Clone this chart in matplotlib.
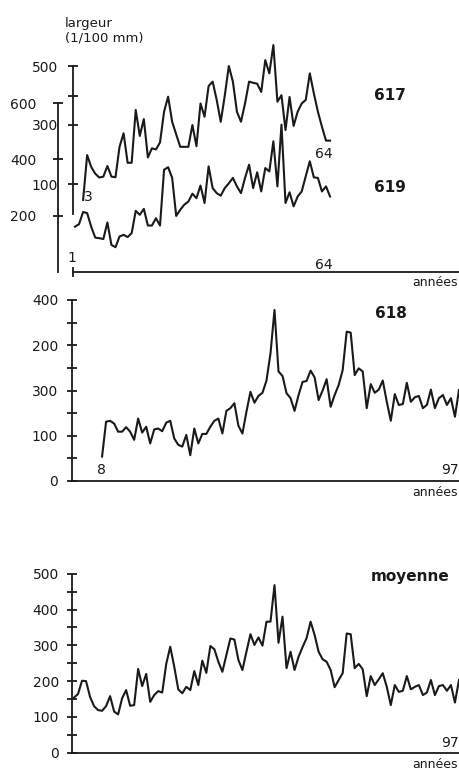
import matplotlib
matplotlib.use("Agg")
import matplotlib.pyplot as plt

# ---------------- data (ring widths, 1/100 mm) ----------------
years_617 = list(range(3, 65))
width_617 = [46, 198, 158, 135, 122, 125, 161, 125, 123, 226,
             272, 172, 172, 351, 263, 320, 190, 221, 217, 241,
             345, 396, 311, 268, 226, 226, 226, 300, 228, 373,
             328, 432, 447, 385, 311, 400, 500, 447, 345, 311,
             373, 447, 443, 440, 412, 520, 475, 571, 379, 401,
             283, 395, 297, 345, 373, 385, 475, 407, 345, 294,
             247, 247]

years_619 = list(range(1, 65))
width_619 = [161, 170, 213, 209, 161, 122, 120, 117, 176, 96,
             88, 126, 132, 124, 138, 217, 203, 224, 165, 165,
             191, 165, 363, 372, 334, 199, 221, 239, 250, 278,
             262, 307, 245, 375, 298, 280, 271, 298, 315, 334,
             304, 280, 334, 381, 298, 354, 286, 369, 357, 464,
             304, 523, 245, 283, 233, 268, 286, 340, 393, 336,
             334, 286, 304, 268]

years_618 = list(range(8, 98))
width_618 = [54, 131, 133, 127, 109, 109, 119, 109, 91, 138,
             107, 120, 83, 114, 116, 110, 129, 133, 94, 80,
             76, 102, 57, 116, 83, 104, 104, 120, 133, 138,
             105, 155, 161, 172, 122, 105, 153, 197, 173, 188,
             195, 222, 282, 378, 242, 232, 194, 183, 155, 190,
             219, 221, 244, 229, 179, 200, 225, 164, 190, 212,
             245, 330, 328, 234, 249, 242, 161, 214, 195, 202,
             222, 175, 133, 192, 168, 170, 217, 175, 185, 188,
             161, 168, 202, 161, 183, 190, 168, 183, 142, 201]

years_moy = list(range(1, 98))
width_moy = [154, 164, 201, 200, 156, 130, 119, 117, 130, 158,
             115, 107, 152, 175, 131, 133, 234, 186, 220, 142,
             161, 172, 168, 248, 296, 240, 177, 166, 184, 175,
             228, 189, 257, 223, 298, 289, 254, 226, 273, 319,
             316, 259, 231, 282, 331, 301, 322, 299, 366, 366,
             468, 307, 380, 236, 282, 231, 268, 295, 320, 366,
             329, 282, 261, 254, 231, 183, 203, 222, 333, 331,
             236, 248, 233, 158, 214, 189, 205, 222, 184, 133,
             189, 170, 173, 214, 177, 184, 189, 161, 168, 203,
             161, 186, 189, 173, 189, 140, 203]

ticks_619 = [200, 400, 600]
labels_619 = ["200", "400", "600"]
ticks_617 = [100, 300, 400, 500]
labels_617 = ["100", "300", "", "500"]
ticks_618 = [0, 50, 100, 150, 200, 250, 300, 350, 400]
labels_618 = ["0", "", "100", "", "300", "", "200", "", "400"]
ticks_moy = [0, 50, 100, 150, 200, 250, 300, 350, 400, 450, 500]
labels_moy = ["0", "", "100", "", "200", "", "300", "", "400", "", "500"]

# ---------------- figure ----------------
W, H = 460, 771
fig = plt.figure(figsize=(W / 100, H / 100), dpi=100)
plt.rcParams['font.family'] = ['DejaVu Sans']
FS = 10
INK = '#1a1a1a'
LW_AX = 1.3
LW_LINE = 1.5


def ax_px(left, right, bottom, top):
    return fig.add_axes([left / W, 1 - bottom / H, (right - left) / W, (bottom - top) / H])


def style(ax, pad):
    for s in ('top', 'right'):
        ax.spines[s].set_visible(False)
    for s in ('left', 'bottom'):
        ax.spines[s].set_linewidth(LW_AX)
        ax.spines[s].set_color(INK)
    ax.tick_params(axis='y', direction='inout', length=7, width=LW_AX,
                   color=INK, labelsize=FS, pad=pad, labelcolor=INK)
    ax.tick_params(axis='x', direction='inout', length=7, width=LW_AX,
                   color=INK, labelbottom=False)
    ax.patch.set_visible(False)


def ftext(x, y, s, **kw):
    kw.setdefault('fontsize', FS)
    kw.setdefault('va', 'center')
    kw.setdefault('color', INK)
    fig.text(x / W, 1 - y / H, s, **kw)


# --- top panel: 619 (outer axis) and 617 (inner axis) ---
xl_top = (0.506, 96.1)
ax619 = ax_px(73, 460, 272, 103)
style(ax619, pad=12)
ax619.set_xlim(*xl_top)
ax619.set_ylim(0, 600)
ax619.spines['left'].set_position(('outward', 11))
ax619.spines['left'].set_bounds(0, 600)
ax619.set_yticks(ticks_619, labels_619)
ax619.set_xticks([xl_top[0]])
ax619.plot(years_619, width_619, color=INK, lw=LW_LINE, clip_on=False)

ax617 = ax_px(73, 460, 213.5, 66)
style(ax617, pad=7.5)
ax617.spines['bottom'].set_visible(False)
ax617.set_xlim(*xl_top)
ax617.set_ylim(0, 500)
ax617.spines['left'].set_bounds(0, 500)
ax617.set_yticks(ticks_617, labels_617)
ax617.set_xticks([])
ax617.plot(years_617, width_617, color=INK, lw=LW_LINE, clip_on=False)

# --- panel 618 ---
xl = (0.5, 97.26)
ax618 = ax_px(72, 460, 481, 300)
style(ax618, pad=6.5)
ax618.set_xlim(*xl)
ax618.set_ylim(0, 400)
ax618.set_yticks(ticks_618, labels_618)
ax618.set_xticks([])
ax618.plot(years_618, width_618, color=INK, lw=LW_LINE, clip_on=False)

# --- panel moyenne ---
axm = ax_px(72, 460, 752.7, 573.7)
style(axm, pad=6)
axm.set_xlim(*xl)
axm.set_ylim(0, 500)
axm.set_yticks(ticks_moy, labels_moy)
axm.set_xticks([])
axm.plot(years_moy, width_moy, color=INK, lw=LW_LINE, clip_on=False)

# --- texts ---
ftext(65, 23, "largeur", fontsize=9.5)
ftext(65, 38, "(1/100 mm)", fontsize=9.5)
ftext(390, 95, "617", fontsize=11, fontweight='bold', ha='center')
ftext(390, 188, "619", fontsize=11, fontweight='bold', ha='center')
ftext(391, 313, "618", fontsize=11, fontweight='bold', ha='center')
ftext(410, 576, "moyenne", fontsize=11, fontweight='bold', ha='center')
ftext(88, 197, "3", ha='center')
ftext(324, 154, "64", ha='center')
ftext(72, 258, "1", ha='center')
ftext(324, 265, "64", ha='center')
ftext(101, 470, "8", ha='center')
ftext(459, 470, "97", ha='right')
ftext(459, 743, "97", ha='right')
ftext(412, 283, "années", fontsize=9, ha='left')
ftext(412, 493, "années", fontsize=9, ha='left')
ftext(412, 765, "années", fontsize=9, ha='left')

fig.savefig("out.png", dpi=100)
